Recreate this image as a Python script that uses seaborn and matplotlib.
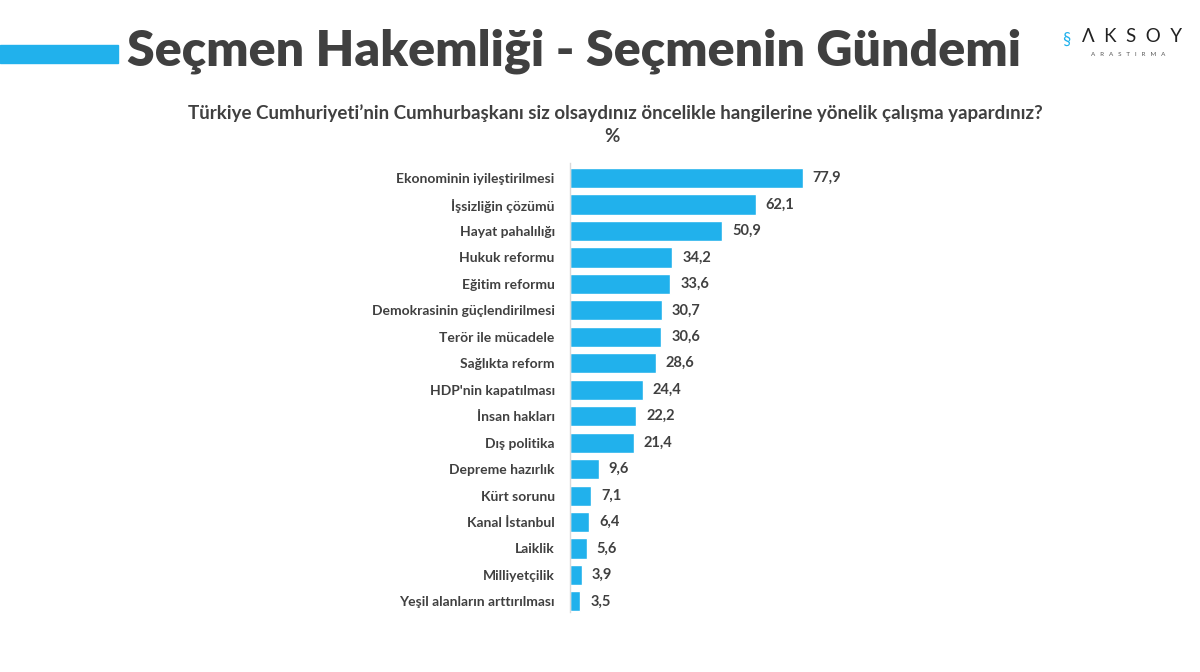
import pandas as pd
import matplotlib.pyplot as plt
import seaborn as sns

sns.set_style("white")
plt.rcParams['font.family'] = ['Lato', 'DejaVu Sans']

# Data
topics = ["Ekonominin iyileştirilmesi", "İşsizliğin çözümü", "Hayat pahalılığı",
          "Hukuk reformu", "Eğitim reformu", "Demokrasinin güçlendirilmesi",
          "Terör ile mücadele", "Sağlıkta reform", "HDP'nin kapatılması",
          "İnsan hakları", "Dış politika", "Depreme hazırlık", "Kürt sorunu",
          "Kanal İstanbul", "Laiklik", "Milliyetçilik", "Yeşil alanların arttırılması"]
percent = [77.9, 62.1, 50.9, 34.2, 33.6, 30.7, 30.6, 28.6, 24.4,
           22.2, 21.4, 9.6, 7.1, 6.4, 5.6, 3.9, 3.5]

df = pd.DataFrame({"Topic": topics, "Percent": percent})

bar_color = "#21b1ec"
text_color = "#404040"

fig = plt.figure(figsize=(12, 6.72), dpi=100)
W, H = 1200, 672

# axes placed in pixel terms
left, right, top, bottom = 570, 1170, 163, 612
ax = fig.add_axes([left / W, 1 - bottom / H, (right - left) / W, (bottom - top) / H])

sns.barplot(data=df, x="Percent", y="Topic", color=bar_color, width=0.76,
            saturation=1, ax=ax)
ax.set_xlim(0, (right - left) / 2.99)
ax.set_ylim(16.4, -0.57)

for i, v in enumerate(percent):
    ax.text(v + 3.3, i, f"{v:.1f}".replace(".", ","), va="center", ha="left",
            fontsize=10.5, fontweight="bold", color=text_color)

ax.set_xlabel("")
ax.set_ylabel("")
ax.set_xticks([])
ax.tick_params(axis="y", length=0, pad=11)
for lab in ax.get_yticklabels():
    lab.set_fontsize(10)
    lab.set_fontweight("bold")
    lab.set_color(text_color)
for s in ["top", "right", "bottom"]:
    ax.spines[s].set_visible(False)
ax.spines["left"].set_color("#d9d9d9")
ax.spines["left"].set_linewidth(1)

# header
fig.patches.append(plt.Rectangle((0, 1 - 63 / H), 118 / W, 18 / H,
                                 transform=fig.transFigure, color=bar_color))
fig.text(127 / W, 1 - 51 / H, "Seçmen Hakemliği - Seçmenin Gündemi",
         fontsize=36, fontweight="heavy", color=text_color, va="center", ha="left")
fig.text(615 / W, 1 - 113 / H,
         "Türkiye Cumhuriyeti’nin Cumhurbaşkanı siz olsaydınız öncelikle hangilerine yönelik çalışma yapardınız?",
         fontsize=13.5, fontweight="bold", color=text_color, va="center", ha="center")
fig.text(612 / W, 1 - 137 / H, "%", fontsize=13.5, fontweight="bold",
         color=text_color, va="center", ha="center")

# logo
fig.text(1132 / W, 1 - 36 / H, "Λ  K  S  O  Y", fontsize=13.5, color="#222222",
         va="center", ha="center")
fig.text(1128 / W, 1 - 55 / H, "A   R   A   S   T   I   R   M   A", fontsize=4.5,
         color="#555555", va="center", ha="center")
fig.text(1066 / W, 1 - 40 / H, "§", fontsize=12, color=bar_color,
         va="center", ha="center")

fig.savefig("out.png", dpi=100)
